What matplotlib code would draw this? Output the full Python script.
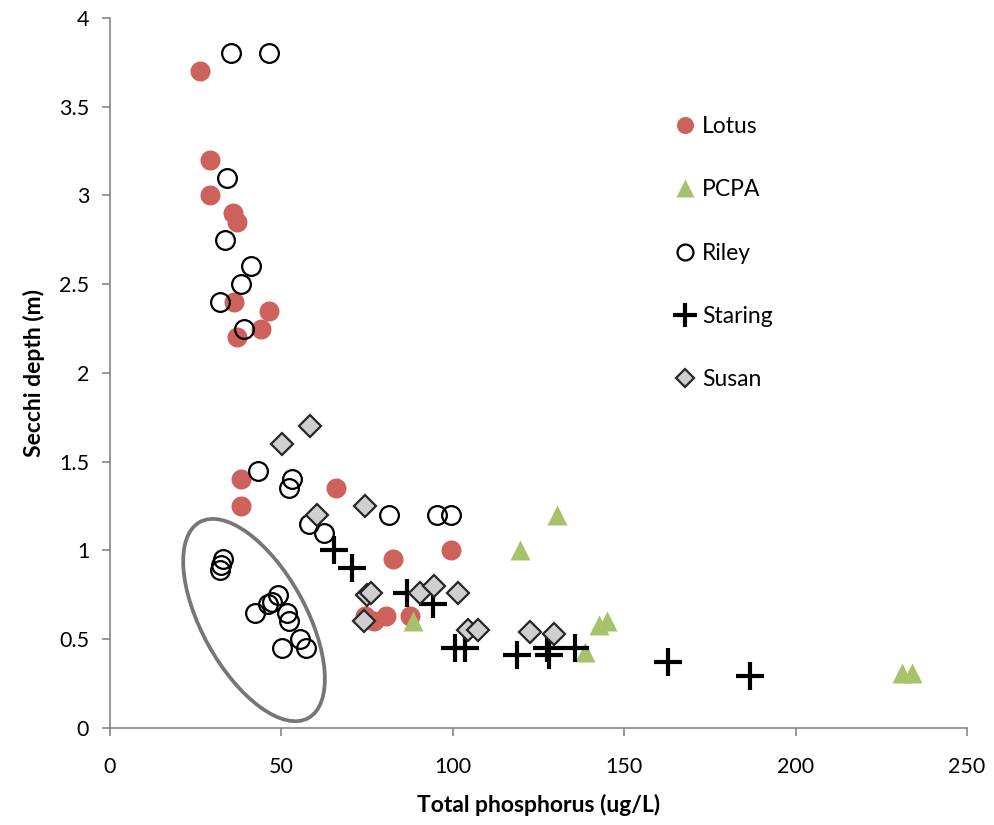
import matplotlib.pyplot as plt
import matplotlib.transforms as mtransforms
from matplotlib.patches import Ellipse

plt.rcParams['font.family'] = ['Lato', 'DejaVu Sans']

# total phosphorus (ug/L) vs secchi depth (m), per lake
lotus_tp = [26.3, 29.2, 29.2, 36.0, 37.0, 36.3, 46.3, 44.0, 37.0, 38.2, 38.2, 66.0,
            82.5, 99.5, 74.4, 77.0, 80.5, 87.5]
lotus_sd = [3.7, 3.2, 3.0, 2.9, 2.85, 2.4, 2.35, 2.25, 2.2, 1.4, 1.25, 1.35,
            0.95, 1.0, 0.63, 0.6, 0.63, 0.63]

pcpa_tp = [130.5, 119.5, 88.5, 138.5, 142.5, 145.0, 231.0, 234.0]
pcpa_sd = [1.2, 1.0, 0.6, 0.43, 0.58, 0.6, 0.31, 0.31]

riley_tp = [35.3, 46.3, 34.2, 33.4, 41.1, 38.2, 32.1, 39.1, 43.3, 53.0, 52.3, 81.5,
            95.3, 99.6, 57.9, 62.4, 33.0, 32.5, 32.0, 49.1, 46.0, 47.2, 42.3, 51.5,
            52.3, 50.3, 55.4, 57.3]
riley_sd = [3.8, 3.8, 3.1, 2.75, 2.6, 2.5, 2.4, 2.25, 1.45, 1.4, 1.35, 1.2,
            1.2, 1.2, 1.15, 1.1, 0.95, 0.92, 0.89, 0.75, 0.7, 0.71, 0.65, 0.65,
            0.6, 0.45, 0.5, 0.45]

staring_tp = [65.2, 70.5, 86.5, 94.3, 100.6, 103.6, 118.6, 127.5, 128.0, 135.6, 162.7, 186.7]
staring_sd = [1.0, 0.9, 0.76, 0.7, 0.45, 0.45, 0.41, 0.45, 0.41, 0.45, 0.37, 0.295]

susan_tp = [58.3, 50.3, 74.4, 60.3, 75.0, 76.0, 90.4, 94.6, 101.6, 74.2, 104.5, 107.4,
            122.5, 129.6]
susan_sd = [1.7, 1.6, 1.25, 1.2, 0.75, 0.76, 0.76, 0.8, 0.76, 0.6, 0.55, 0.55,
            0.54, 0.53]

fig = plt.figure(figsize=(9.95, 8.25), dpi=100)
ax = fig.add_axes([0.1106, 0.1176, 0.8613, 0.8606])

ax.plot(lotus_tp, lotus_sd, 'o', ms=14.4, color='#CD625C', mec='none', label='Lotus')
ax.plot(pcpa_tp, pcpa_sd, '^', ms=15, color='#A7C26A', mec='none', label='PCPA')
ax.plot(riley_tp, riley_sd, 'o', ms=13.5, mfc='none', mec='black', mew=1.6, label='Riley')
ax.plot(staring_tp, staring_sd, '+', ms=20, color='black', mew=3, label='Staring')
ax.plot(susan_tp, susan_sd, 'D', ms=11.3, mfc='#CFCFCF', mec='#262626', mew=1.6, label='Susan')

# outline around the low-TP / low-clarity Riley cluster (sized in inches)
ell_trans = fig.dpi_scale_trans + mtransforms.ScaledTranslation(42.0, 0.608, ax.transData)
ax.add_patch(Ellipse((0, 0), 2.24, 1.04, angle=-61, transform=ell_trans,
                     fill=False, ec='#767676', lw=2.7, zorder=5))

ax.set_xlim(0, 250)
ax.set_ylim(0, 4)
ax.set_xticks([0, 50, 100, 150, 200, 250])
ax.set_yticks([0, 0.5, 1, 1.5, 2, 2.5, 3, 3.5, 4])
ax.set_yticklabels(['0', '0.5', '1', '1.5', '2', '2.5', '3', '3.5', '4'])

for s in ['top', 'right']:
    ax.spines[s].set_visible(False)
for s in ['left', 'bottom']:
    ax.spines[s].set_color('#868686')
    ax.spines[s].set_linewidth(1.2)
ax.tick_params(axis='both', colors='#868686', labelcolor='black', labelsize=15.5,
               length=6, width=1.2, direction='out')
ax.tick_params(axis='x', pad=15)
ax.tick_params(axis='y', pad=9)

ax.set_xlabel('Total phosphorus (ug/L)', fontsize=16.5, fontweight='bold', labelpad=12)
ax.set_ylabel('Secchi depth (m)', fontsize=16.5, fontweight='bold', labelpad=10)

leg = ax.legend(loc='upper left', bbox_to_anchor=(0.652, 0.875), frameon=False,
                fontsize=16.5, markerscale=0.85, handlelength=0.6, handletextpad=0.45,
                labelspacing=1.85, numpoints=1, borderaxespad=0)

fig.savefig('out.png', dpi=100)
